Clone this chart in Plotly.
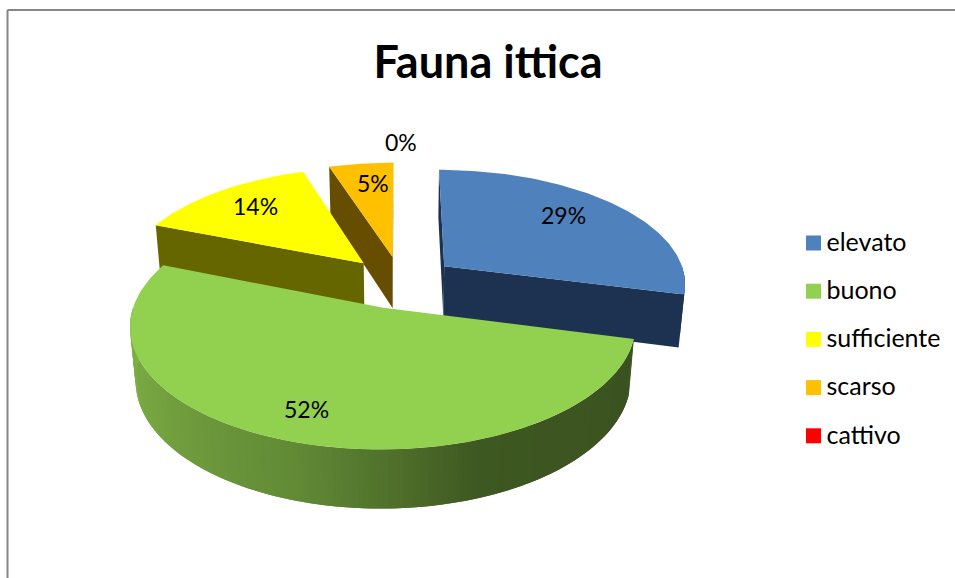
import math
import plotly.graph_objects as go

TITLE = "Fauna ittica"
categories = ["elevato", "buono", "sufficiente", "scarso", "cattivo"]
values = [29, 52, 14, 5, 0]
top_colors = ["#4F81BD", "#92D050", "#FFFF00", "#FFC000", "#FF0000"]
wall_colors = ["#1D3250", "#3A5120", "#666600", "#664D00", "#660000"]

# Label placement inside each slice: share of the radius, nudge in degrees
label_radius = [0.74, 0.79, 0.76, 0.77, 1.25]
label_nudge = [-4.6, 1.8, 1.5, 1.7, 0.0]

# Camera used to turn the pie into its 3D look (pixels and ratios)
CX, CY, RX, RY, DEPTH = 401, 282, 242.5, 114, 53.5
PERSP, PERSP_H, EXPLODE = 0.14, 0.02, 0.23
FONT = "Lato"

# Green wall shading: angle in degrees -> colour
shade_stops = [(100, (58, 81, 32)), (160, (62, 88, 33)), (197, (98, 138, 54)),
               (240, (118, 165, 65)), (275, (128, 178, 68)), (295, (128, 178, 68))]


def project(X, Z, H=0.0):
    s = 1 / (1 + PERSP * Z + PERSP_H * H)
    return CX + RX * X * s, CY - RY * Z * s + DEPTH * H * s


def polar(theta):
    a = math.radians(theta)
    return math.sin(a), math.cos(a)


def shade(theta):
    for (a0, c0), (a1, c1) in zip(shade_stops, shade_stops[1:]):
        if a0 <= theta <= a1:
            t = (theta - a0) / (a1 - a0)
            r, g, b = [round(u + (v - u) * t) for u, v in zip(c0, c1)]
            return f"rgb({r},{g},{b})"
    return "rgb(58,81,32)"


def poly(points, color, name):
    return go.Scatter(
        x=[p[0] for p in points], y=[p[1] for p in points],
        mode="lines", fill="toself", fillcolor=color,
        line=dict(width=0), hoverinfo="skip",
        showlegend=False, name=name,
    )


def signed_area(points):
    return sum(a[0] * b[1] - b[0] * a[1] for a, b in zip(points, points[1:] + points[:1]))


# Slice angles come from the values
total = sum(values)
slices = []
angle = 0.0
for v in values:
    sweep = 360 * v / total
    slices.append((angle, angle + sweep))
    angle += sweep

fig = go.Figure()
annotations = []


def apex_of(start, end):
    dx, dz = polar((start + end) / 2)
    return EXPLODE * dx, EXPLODE * dz


# Painted from the back of the pie to the front
for i in [3, 2, 0, 1]:
    start, end = slices[i]
    ax, az = apex_of(start, end)
    n = max(2, int(end - start))
    thetas = [start + (end - start) * k / n for k in range(n + 1)]
    rim = [(ax + polar(t)[0], az + polar(t)[1]) for t in thetas]

    # radial faces that look at the viewer
    for (X, Z), sign in ((rim[0], -1), (rim[-1], 1)):
        quad = [project(ax, az), project(X, Z), project(X, Z, 1), project(ax, az, 1)]
        if signed_area(quad) * sign > 0:
            fig.add_trace(poly(quad, wall_colors[i], categories[i]))

    # outer wall, front half only
    front = [k for k in range(n) if math.cos(math.radians((thetas[k] + thetas[k + 1]) / 2)) < 0]
    if i == 1:
        for k in front:
            a, b = rim[k], rim[min(k + 2, n)]  # overlap the next strip so no seams show
            fig.add_trace(poly([project(*a), project(*b), project(*b, 1), project(*a, 1)],
                               shade((thetas[k] + thetas[k + 1]) / 2), categories[i]))
    elif front:
        part = [rim[k] for k in front] + [rim[front[-1] + 1]]
        fig.add_trace(poly([project(*p) for p in part] +
                           [project(*p, 1) for p in reversed(part)],
                           wall_colors[i], categories[i]))
    # top
    fig.add_trace(poly([project(ax, az)] + [project(*p) for p in rim],
                       top_colors[i], categories[i]))

# Percentage labels
for i, v in enumerate(values):
    start, end = slices[i]
    ax, az = apex_of(start, end)
    dx, dz = polar((start + end) / 2 + label_nudge[i])
    x, y = project(ax + label_radius[i] * dx, az + label_radius[i] * dz)
    annotations.append(dict(x=x, y=y, xref="x", yref="y", text=f"{v}%", showarrow=False,
                            font=dict(family=FONT, size=23, color="#000000")))

# Legend key
KEY_X, KEY_Y, KEY_STEP, KEY_TEXT_X, KEY_TEXT_DY = 813.5, 243, 48.2, 826.5, 1.5
key_rows = [KEY_Y + KEY_STEP * k for k in range(len(categories))]
fig.add_trace(go.Scatter(
    x=[KEY_X] * len(categories), y=key_rows, mode="markers",
    marker=dict(symbol="square", size=15, color=top_colors, line=dict(width=0)),
    hoverinfo="skip", showlegend=False,
))
fig.add_trace(go.Scatter(
    x=[KEY_TEXT_X] * len(categories), y=[r + KEY_TEXT_DY for r in key_rows], mode="text",
    text=categories, textposition="middle right",
    textfont=dict(family=FONT, size=25, color="#000000"),
    hoverinfo="skip", showlegend=False,
))

fig.update_layout(
    width=955, height=578, margin=dict(l=0, r=0, t=0, b=0),
    paper_bgcolor="#FFFFFF", plot_bgcolor="#FFFFFF", showlegend=False,
    title=dict(text=f"<b>{TITLE}</b>", x=488 / 955, xanchor="center", y=1 - 62 / 578, yanchor="middle",
               font=dict(family=FONT, size=45, color="#000000")),
    xaxis=dict(range=[0, 955], visible=False, fixedrange=True),
    yaxis=dict(range=[578, 0], visible=False, fixedrange=True),
    annotations=annotations,
    shapes=[dict(type="line", xref="x", yref="y", x0=7.5, x1=7.5, y0=10, y1=578,
                 line=dict(color="#868686", width=2)),
            dict(type="line", xref="x", yref="y", x0=7.5, x1=955, y0=10, y1=10,
                 line=dict(color="#868686", width=2))],
)

fig.write_html("out.html", config=dict(displayModeBar=False),
               post_script="document.body.style.margin='0';document.documentElement.style.overflow='hidden';")
